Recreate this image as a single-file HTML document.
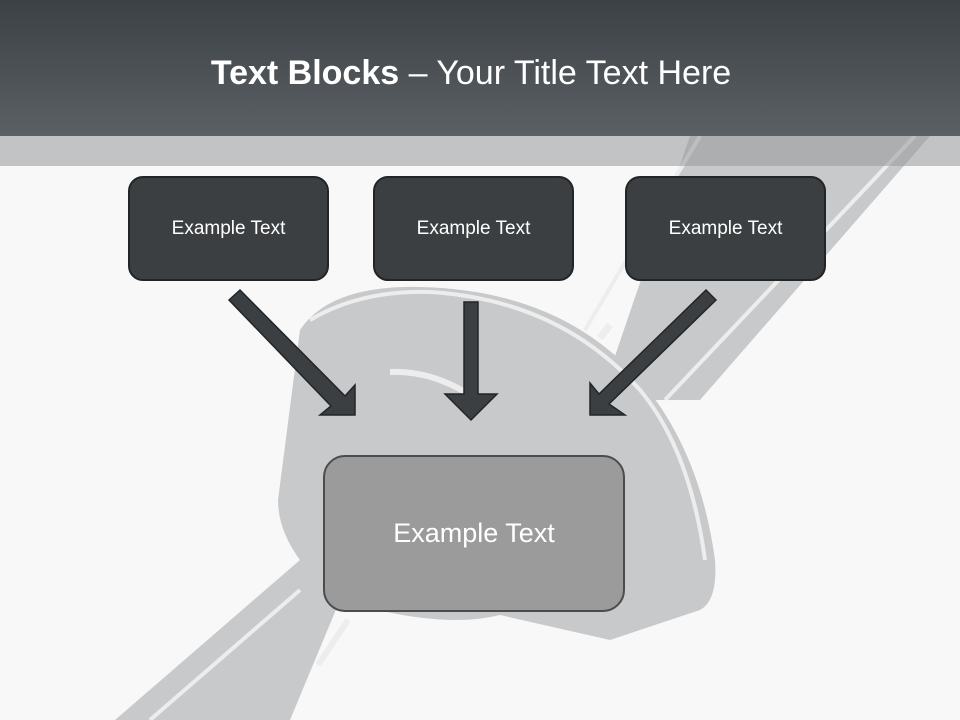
<!DOCTYPE html>
<html><head><style>
body{margin:0;width:960px;height:720px;overflow:hidden;background:#f8f8f8;font-family:"Liberation Sans",sans-serif;position:relative}
.hdr{position:absolute;left:0;top:0;width:960px;height:136px;background:linear-gradient(#3c4145,#5b6064)}
.band{position:absolute;left:0;top:136px;width:960px;height:30px;background:rgba(150,152,155,0.55)}
.title{position:absolute;left:0;width:942px;top:54px;text-align:center;color:#fff;font-size:34px}
.box{position:absolute;box-sizing:border-box;border:2px solid #222527;border-radius:15px;background:#3b3f42;color:#fff;font-size:19px;display:flex;align-items:center;justify-content:center}
svg{position:absolute;left:0;top:0}
</style></head><body>
<svg width="960" height="720">
 <g fill="#c8c9cb">
  <polygon points="690,136 930,136 700,400 600,400"/>
  <path d="M300,330 Q330,285 420,287 Q560,290 640,380 Q700,450 715,560 Q718,600 700,610 L610,640 L500,615 Q440,630 340,600 L290,720 L115,720 L300,560 Q278,530 278,500 Z"/>
 </g>
 <g stroke="#ededed" stroke-width="4" fill="none">
  <line x1="700" y1="136" x2="585" y2="330"/>
  <line x1="915" y1="136" x2="665" y2="400"/>
  <path d="M310,320 Q360,290 430,292 Q560,300 640,390 Q690,450 705,560"/>
  <path d="M390,372 Q430,370 470,395" stroke-width="6"/>
  <line x1="300" y1="590" x2="150" y2="720"/>
  <line x1="348" y1="620" x2="318" y2="665" stroke-width="6"/>
  <line x1="610" y1="325" x2="600" y2="338" stroke-width="7"/>
 </g>
</svg>
<div class="hdr"></div><div class="band"></div>
<svg width="960" height="720">
 <g fill="#3b3f42" stroke="#222527" stroke-width="1.5">
  <polygon points="229,300 240,290 345,396 355,385 355,415 320,415 331,406"/>
  <polygon points="464,302 478,302 478,394 497,394 471,420 445,394 464,394"/>
  <polygon points="706,290 716,300 609,404 625,415 590,415 590,383 599,394"/>
 </g>
</svg>
<div class="title"><b>Text Blocks</b> – Your Title Text Here</div>
<div class="box" style="left:128px;top:176px;width:201px;height:105px">Example Text</div>
<div class="box" style="left:373px;top:176px;width:201px;height:105px">Example Text</div>
<div class="box" style="left:625px;top:176px;width:201px;height:105px">Example Text</div>
<div class="box" style="left:323px;top:455px;width:302px;height:157px;background:#9b9b9b;border-color:#4a4c4e;font-size:27px;border-radius:22px">Example Text</div>
</body></html>
